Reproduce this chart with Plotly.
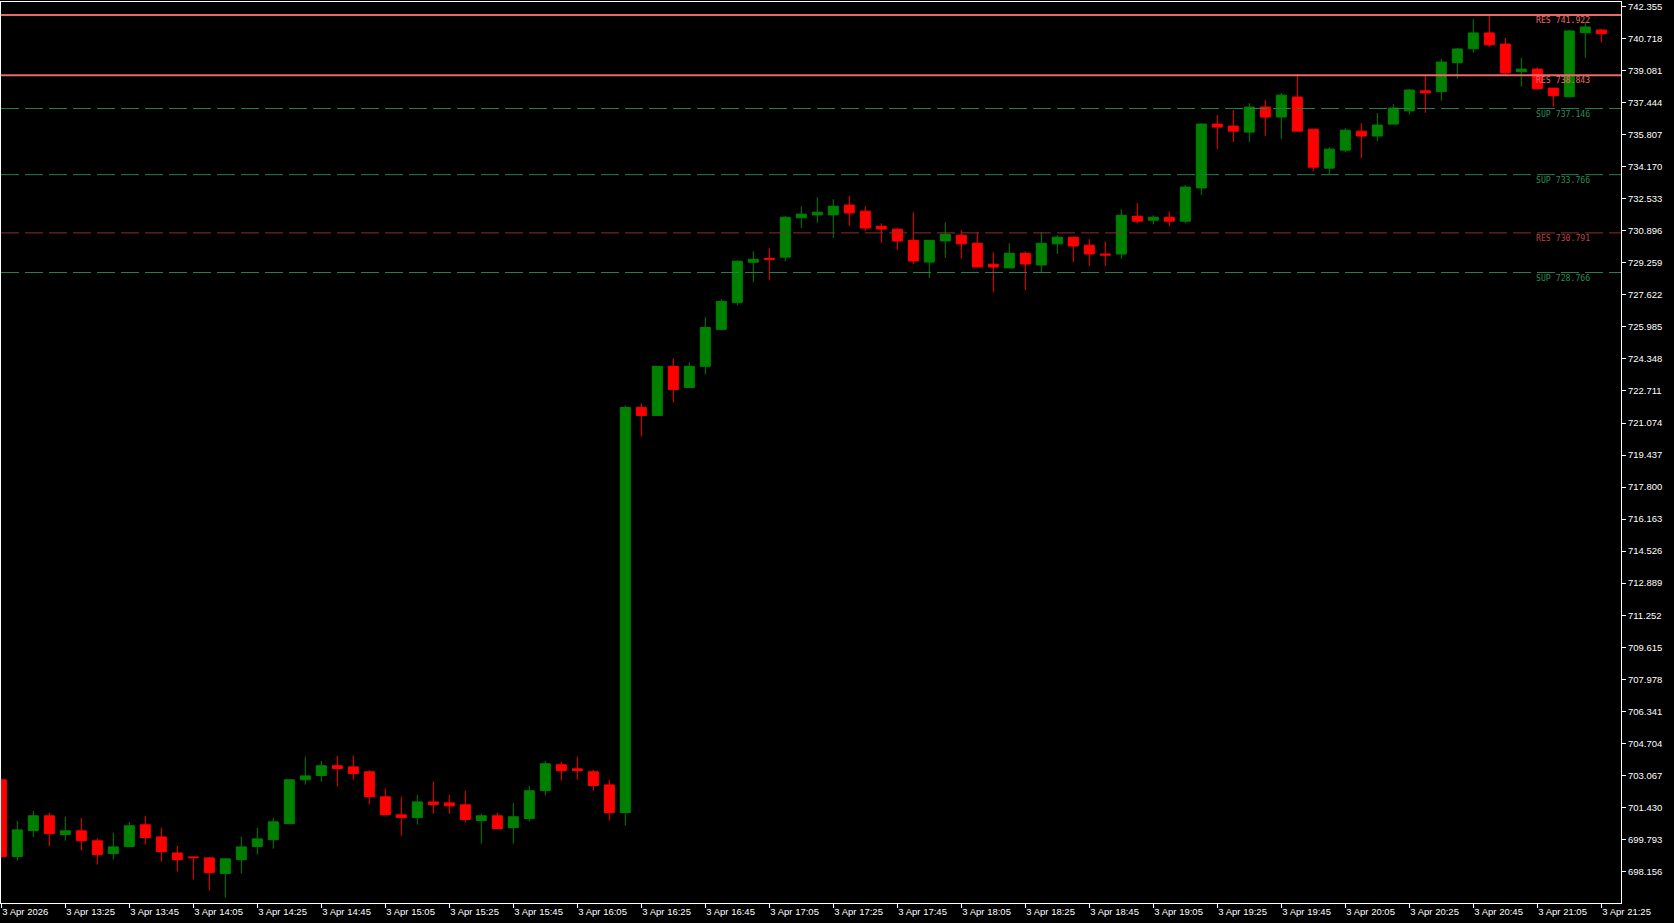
import plotly.graph_objects as go
import pandas as pd

# ---------------- data ----------------
start_time = "2026-04-03 13:05"
bar_minutes = 5

opens = [702.84, 698.92, 700.25, 701.00, 700.04, 700.23, 699.72, 699.07, 699.43, 700.54,
         699.92, 699.10, 698.90, 698.85, 698.05, 698.76, 699.43, 699.78, 700.60, 702.84,
         703.06, 703.56, 703.50, 703.25, 701.97, 701.05, 700.91, 701.71, 701.66, 701.56,
         700.76, 701.00, 700.40, 700.86, 702.29, 703.61, 703.40, 703.25, 702.58, 701.17,
         721.87, 721.46, 723.97, 722.89, 723.97, 725.86, 727.24, 729.29, 729.49, 729.55,
         731.56, 731.71, 731.71, 732.21, 731.90, 731.13, 730.98, 730.41, 729.30, 730.38,
         730.67, 730.26, 729.19, 729.00, 729.75, 729.15, 730.23, 730.57, 730.16, 729.71,
         729.71, 731.64, 731.44, 731.59, 731.39, 733.09, 736.35, 736.25, 735.94, 737.22,
         736.71, 737.73, 736.09, 734.10, 735.02, 735.99, 735.74, 736.35, 737.03, 738.05,
         738.02, 739.49, 740.20, 741.01, 740.44, 739.03, 739.16, 738.19, 737.75, 741.02,
         741.16]
highs = [702.90, 700.74, 701.25, 701.15, 700.95, 700.88, 699.86, 700.13, 700.69, 701.00,
         700.38, 699.46, 698.90, 698.90, 698.80, 699.92, 700.38, 700.90, 702.84, 704.02,
         703.81, 704.07, 704.07, 703.30, 702.38, 701.97, 702.07, 702.74, 702.07, 702.28,
         701.10, 701.15, 701.66, 702.53, 703.81, 703.76, 704.02, 703.35, 702.84, 721.97,
         722.08, 723.97, 724.38, 724.17, 726.48, 727.40, 729.39, 729.85, 730.01, 731.64,
         732.15, 732.61, 732.51, 732.67, 732.15, 731.28, 731.03, 731.85, 730.41, 731.34,
         730.93, 730.82, 729.80, 730.26, 729.85, 730.82, 730.67, 730.57, 730.47, 730.36,
         732.00, 732.31, 731.69, 731.90, 733.23, 736.40, 736.81, 737.07, 737.42, 737.58,
         737.94, 738.91, 736.09, 735.17, 736.14, 736.40, 736.91, 737.37, 738.14, 738.81,
         739.68, 740.24, 741.72, 741.93, 740.75, 739.73, 739.25, 738.19, 741.16, 741.57,
         741.21]
lows = [698.85, 698.71, 699.92, 699.43, 699.73, 699.22, 698.51, 698.76, 699.40, 699.53,
        698.66, 698.15, 697.74, 697.18, 696.82, 698.05, 699.02, 699.32, 700.60, 702.60,
        702.75, 702.50, 702.85, 701.58, 701.06, 699.99, 700.55, 701.11, 701.11, 700.65,
        699.58, 700.35, 699.58, 700.71, 702.04, 702.80, 702.85, 702.29, 700.76, 700.50,
        720.39, 721.46, 722.13, 722.89, 723.56, 725.81, 727.09, 728.27, 728.37, 729.34,
        731.04, 731.30, 730.53, 731.15, 730.89, 730.28, 729.92, 729.20, 728.49, 729.51,
        729.46, 729.05, 727.77, 729.00, 727.87, 728.74, 729.71, 729.30, 729.10, 729.10,
        729.46, 731.28, 731.23, 731.13, 731.28, 732.73, 735.07, 735.43, 735.43, 735.74,
        735.58, 735.99, 733.94, 733.79, 734.92, 734.61, 735.48, 736.35, 736.83, 736.93,
        737.54, 738.67, 740.00, 740.30, 738.89, 738.26, 738.16, 737.23, 737.75, 739.74,
        740.51]
closes = [698.92, 700.28, 701.00, 700.09, 700.23, 699.73, 699.02, 699.41, 700.49, 699.89,
          699.17, 698.76, 698.86, 698.10, 698.80, 699.41, 699.82, 700.69, 702.84, 703.04,
          703.56, 703.42, 703.16, 701.98, 701.06, 700.91, 701.71, 701.58, 701.51, 700.81,
          701.00, 700.35, 700.95, 702.28, 703.66, 703.31, 703.31, 702.55, 701.17, 721.87,
          721.46, 723.97, 722.79, 723.97, 725.96, 727.29, 729.34, 729.44, 729.44, 731.59,
          731.75, 731.85, 732.15, 731.81, 731.04, 730.99, 730.38, 729.36, 730.41, 730.72,
          730.23, 729.05, 729.05, 729.75, 729.20, 730.26, 730.57, 730.12, 729.71, 729.66,
          731.69, 731.39, 731.59, 731.39, 733.13, 736.35, 736.20, 735.99, 737.22, 736.71,
          737.83, 735.99, 734.15, 735.07, 736.04, 735.74, 736.30, 737.17, 738.09, 737.95,
          739.52, 740.19, 741.01, 740.41, 738.97, 739.16, 738.16, 737.80, 741.11, 741.31,
          740.97]

level_values = [741.922, 738.843, 737.146, 733.766, 730.791, 728.766]
level_names = ["RES", "RES", "SUP", "SUP", "RES", "SUP"]
level_strong = [True, True, False, False, False, False]

y_tick_values = [742.355, 740.718, 739.081, 737.444, 735.807, 734.170, 732.533, 730.896,
                 729.259, 727.622, 725.985, 724.348, 722.711, 721.074, 719.437, 717.800,
                 716.163, 714.526, 712.889, 711.252, 709.615, 707.978, 706.341, 704.704,
                 703.067, 701.430, 699.793, 698.156]
x_tick_every = 4  # bars between time labels

# ---------------- figure ----------------
times = pd.date_range(start_time, periods=len(opens), freq=f"{bar_minutes}min")
step = pd.Timedelta(minutes=bar_minutes)

GREEN = "#008000"
RED = "#FF0000"

fig = go.Figure()
fig.add_trace(go.Candlestick(
    x=times, open=opens, high=highs, low=lows, close=closes,
    increasing=dict(line=dict(color=GREEN, width=1), fillcolor=GREEN),
    decreasing=dict(line=dict(color=RED, width=1), fillcolor=RED),
    whiskerwidth=0, hoverinfo="skip", showlegend=False,
))

tick_times = list(times[::x_tick_every])
tick_text = []
for k, t in enumerate(tick_times):
    if k == 0:
        tick_text.append(f"{t.day} {t.strftime('%b')} {t.year}")
    else:
        tick_text.append(f"{t.day} {t.strftime('%b')} {t.strftime('%H:%M')}")

shapes = []
annotations = []
for v, name, strong in zip(level_values, level_names, level_strong):
    if name == "RES" and strong:
        lc, tc, lw, dash = "#E86A6A", "#E86A6A", 2, "solid"
    elif name == "RES":
        lc, tc, lw, dash = "#8E2E2E", "#B54545", 1, "18px,6px"
    else:
        lc, tc, lw, dash = "#2E7A4E", "#2E8B57", 1, "18px,6px"
    shapes.append(dict(type="line", xref="paper", x0=0, x1=1, yref="y", y0=v, y1=v,
                       line=dict(color=lc, width=lw, dash=dash), layer="above"))
    annotations.append(dict(xref="paper", x=0.982, xanchor="right", yref="y", y=v,
                            yanchor="middle", yshift=-5, showarrow=False,
                            text=f"{name} {v:.3f}",
                            font=dict(family="DejaVu Sans Mono", size=8.2, color=tc)))

tick_font = dict(family="Liberation Sans", size=9.5, color="#FFFFFF")

fig.update_layout(
    width=1674, height=923,
    margin=dict(l=1, r=53, t=2, b=20),
    paper_bgcolor="#000000", plot_bgcolor="#000000",
    boxgap=0.375, boxgroupgap=0,
    shapes=shapes, annotations=annotations,
    hovermode=False,
    xaxis=dict(
        type="date",
        range=[times[0] - 0.02 * step, times[0] + 101.23 * step],
        rangeslider=dict(visible=False),
        tickvals=tick_times, ticktext=tick_text,
        ticks="outside", ticklen=4, tickcolor="#FFFFFF", tickwidth=1,
        ticklabelposition="outside right",
        tickfont=tick_font,
        showgrid=False, zeroline=False,
        showline=True, linecolor="#FFFFFF", linewidth=1, mirror=True,
    ),
    yaxis=dict(
        side="right",
        range=[696.544, 742.590],
        tickvals=y_tick_values, ticktext=[f"{v:.3f}" for v in y_tick_values],
        ticks="outside", ticklen=4, tickcolor="#FFFFFF", tickwidth=1,
        tickfont=tick_font,
        showgrid=False, zeroline=False,
        showline=True, linecolor="#FFFFFF", linewidth=1, mirror=True,
    ),
)

fig.write_html("out.html", config={"displayModeBar": False},
               post_script="document.body.style.margin='0';document.body.style.overflow='hidden';")
